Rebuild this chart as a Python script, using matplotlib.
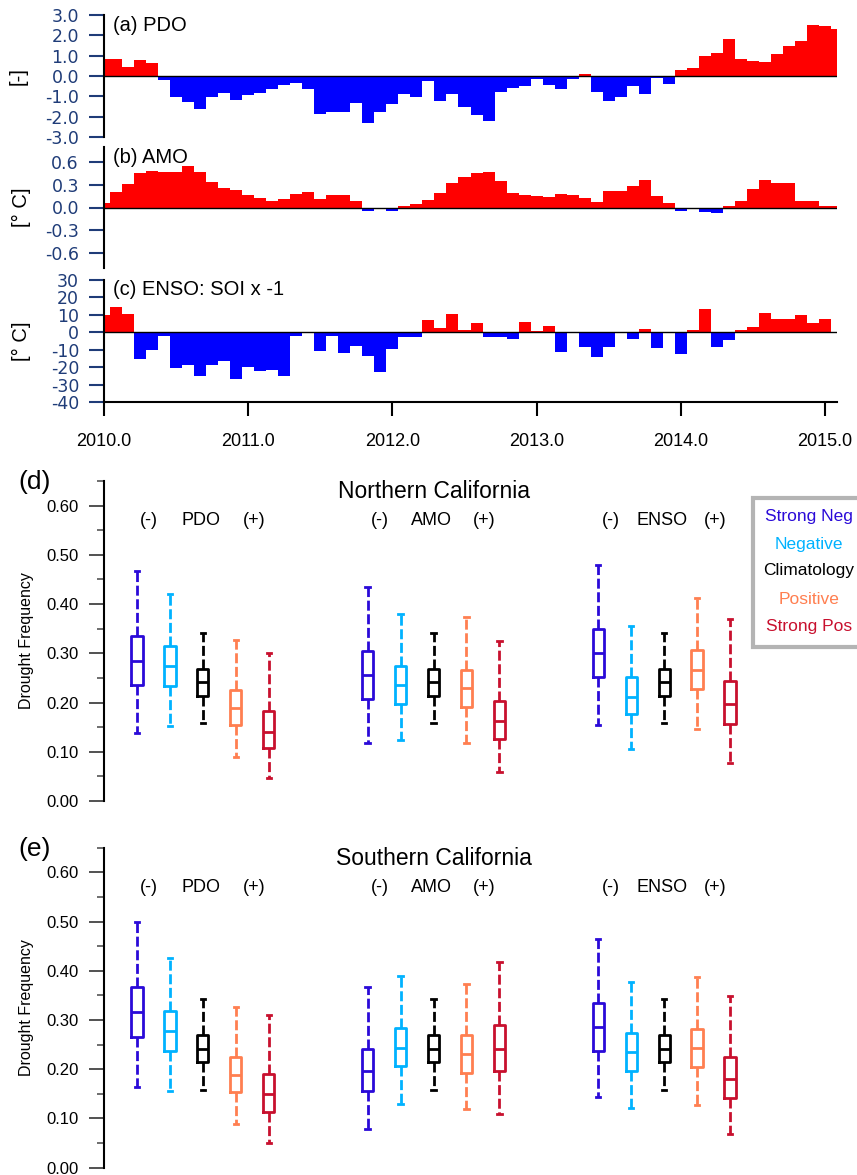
import numpy as np
import matplotlib
matplotlib.use("Agg")
import matplotlib.pyplot as plt
from matplotlib.patches import Rectangle

plt.rcParams['font.family'] = ['Liberation Sans', 'DejaVu Sans']

# ---- monthly indices, Jan 2010 .. Feb 2015 ----
months = 2010 + np.arange(62) / 12.0

pdo = [0.82, 0.82, 0.44, 0.79, 0.64, -0.2, -1.05, -1.26, -1.6, -1.05,
       -0.84, -1.2, -0.93, -0.85, -0.66, -0.43, -0.36, -0.66, -1.85, -1.77,
       -1.79, -1.34, -2.33, -1.79, -1.38, -0.87, -1.03, -0.25, -1.25, -0.87,
       -1.5, -1.92, -2.2, -0.77, -0.59, -0.48, -0.15, -0.43, -0.62, -0.16,
       0.1, -0.77, -1.25, -1.03, -0.49, -0.87, -0.11, -0.39, 0.31, 0.39,
       0.97, 1.13, 1.8, 0.84, 0.72, 0.69, 1.08, 1.49, 1.72, 2.52,
       2.46, 2.3]

amo = [0.066, 0.206, 0.307, 0.45, 0.48, 0.47, 0.47, 0.55, 0.47, 0.34,
       0.26, 0.23, 0.17, 0.13, 0.083, 0.114, 0.175, 0.2, 0.11, 0.17,
       0.167, 0.083, -0.048, -0.013, -0.04, 0.026, 0.048, 0.1, 0.19, 0.32,
       0.4, 0.45, 0.47, 0.355, 0.19, 0.16, 0.15, 0.136, 0.184, 0.16,
       0.12, 0.07, 0.215, 0.215, 0.28, 0.37, 0.15, 0.057, -0.044, -0.02,
       -0.057, -0.07, 0.018, 0.083, 0.24, 0.36, 0.33, 0.32, 0.09, 0.083,
       0.018, 0.018]

enso = [10.1, 14.5, 10.5, -15.4, -10.3, -2.1, -20.6, -19.0, -25.0, -18.5,
        -16.6, -27.0, -20.2, -22.3, -21.5, -25.0, -2.1, -0.4, -10.7, -2.3,
        -11.6, -7.6, -13.7, -23.0, -9.7, -2.7, -2.9, 7.0, 2.7, 10.5,
        1.5, 5.1, -2.9, -2.7, -4.0, 6.1, 0.8, 3.6, -11.2, -0.2,
        -8.4, -14.1, -8.2, 0.2, -4.0, 1.9, -9.1, -0.2, -12.2, 1.3,
        13.1, -8.6, -4.6, 1.3, 2.9, 11.2, 7.4, 7.8, 10.1, 5.3,
        7.8, -0.3]

# ---- drought frequency box statistics ----
indices = ['PDO', 'AMO', 'ENSO']
phases = ['Strong Neg', 'Negative', 'Climatology', 'Positive', 'Strong Pos']
phase_colors = ['#2a0ad8', '#00b2ff', '#000000', '#ff7f50', '#c8102e']

# order: PDO (SN, N, C, P, SP), AMO (...), ENSO (...)
north_lo = [0.139, 0.152, 0.158, 0.089, 0.046,
            0.118, 0.123, 0.158, 0.117, 0.058,
            0.154, 0.106, 0.158, 0.147, 0.078]
north_q1 = [0.235, 0.233, 0.214, 0.155, 0.107,
            0.208, 0.197, 0.214, 0.190, 0.125,
            0.252, 0.176, 0.214, 0.227, 0.156]
north_med = [0.284, 0.274, 0.241, 0.189, 0.141,
             0.255, 0.235, 0.241, 0.229, 0.162,
             0.300, 0.212, 0.241, 0.266, 0.197]
north_q3 = [0.335, 0.314, 0.269, 0.226, 0.183,
            0.304, 0.274, 0.269, 0.267, 0.204,
            0.349, 0.251, 0.269, 0.306, 0.243]
north_hi = [0.467, 0.420, 0.341, 0.327, 0.300,
            0.435, 0.379, 0.341, 0.373, 0.325,
            0.479, 0.355, 0.341, 0.413, 0.370]

south_lo = [0.163, 0.156, 0.158, 0.088, 0.051,
            0.078, 0.130, 0.158, 0.120, 0.110,
            0.143, 0.122, 0.158, 0.128, 0.068]
south_q1 = [0.266, 0.238, 0.215, 0.154, 0.114,
            0.155, 0.207, 0.215, 0.193, 0.197,
            0.238, 0.197, 0.215, 0.204, 0.141]
south_med = [0.316, 0.277, 0.242, 0.188, 0.149,
             0.196, 0.244, 0.242, 0.230, 0.241,
             0.285, 0.235, 0.242, 0.243, 0.180]
south_q3 = [0.368, 0.318, 0.270, 0.224, 0.190,
            0.241, 0.283, 0.270, 0.270, 0.289,
            0.334, 0.274, 0.270, 0.282, 0.224]
south_hi = [0.500, 0.425, 0.342, 0.326, 0.311,
            0.368, 0.389, 0.342, 0.374, 0.418,
            0.464, 0.378, 0.342, 0.387, 0.349]

navy = '#1f3c78'
W, H = 857, 1175
fig = plt.figure(figsize=(W / 100, H / 100), dpi=100)


def fx(px):
    return px / W


def fy(px):
    return 1 - px / H


def index_panel(rect, values, ylim, yticks, ylabels, ylabel, label, label_y):
    ax = fig.add_axes(rect)
    vals = np.array(values)
    cols = np.where(vals >= 0, '#ff0000', '#0000ff')
    ax.bar(months, vals, width=1 / 12, color=cols, linewidth=0)
    ax.axhline(0, color='black', lw=1.0)
    ax.set_xlim(2010.0, 2015.0 + 1 / 12)
    ax.set_ylim(*ylim)
    ax.set_yticks(yticks)
    ax.set_yticklabels(ylabels, family='DejaVu Sans', fontsize=12.5, color=navy)
    ax.tick_params(axis='y', direction='out', length=11, width=1.5,
                   color=navy, pad=7)
    for s in ['top', 'right', 'bottom']:
        ax.spines[s].set_visible(False)
    ax.spines['left'].set_linewidth(1.5)
    ax.set_xticks([])
    ax.set_ylabel(ylabel, fontsize=14.5)
    ax.text(0.012, label_y, label, transform=ax.transAxes, fontsize=14.5,
            va='center', ha='left')
    return ax


left = fx(104)
width = fx(733)
ax_a = index_panel([left, fy(137), width, 122 / H], pdo, (-3, 3),
                   [3, 2, 1, 0, -1, -2, -3],
                   ['3.0', '2.0', '1.0', '0.0', '-1.0', '-2.0', '-3.0'],
                   '[-]', '(a) PDO', 0.918)
ax_a.yaxis.set_label_coords(-76 / 733, 0.5)

ax_b = index_panel([left, fy(268), width, 121 / H], amo, (-0.8, 0.8),
                   [0.6, 0.3, 0.0, -0.3, -0.6],
                   ['0.6', '0.3', '0.0', '-0.3', '-0.6'],
                   '[° C]', '(b) AMO', 0.917)
ax_b.yaxis.set_label_coords(-73 / 733, 0.5)

ax_c = index_panel([left, fy(402), width, 122 / H], enso, (-40, 30),
                   [30, 20, 10, 0, -10, -20, -30, -40],
                   ['30', '20', '10', '0', '-10', '-20', '-30', '-40'],
                   '[° C]', '(c) ENSO: SOI x -1', 0.926)
ax_c.yaxis.set_label_coords(-73 / 733, 0.5)
ax_c.spines['bottom'].set_visible(True)
ax_c.spines['bottom'].set_linewidth(1.5)
years = [2010, 2011, 2012, 2013, 2014, 2015]
ax_c.set_xticks(years)
ax_c.set_xticklabels([f'{y}.0' for y in years], fontsize=13)
ax_c.tick_params(axis='x', direction='out', length=10, width=1.5, pad=12)


def box_panel(rect, lo, q1, med, q3, hi, title):
    ax = fig.add_axes(rect)
    stats = []
    positions = []
    colors = []
    for g in range(len(indices)):
        for i in range(len(phases)):
            k = g * len(phases) + i
            stats.append(dict(whislo=lo[k], q1=q1[k], med=med[k],
                              q3=q3[k], whishi=hi[k]))
            positions.append(g * 7 + i)
            colors.append(phase_colors[i])
    art = ax.bxp(stats, positions=positions, widths=0.34, showfliers=False,
                 capwidths=0.13, manage_ticks=False)
    for k, c in enumerate(colors):
        art['boxes'][k].set(color=c, linewidth=2)
        art['medians'][k].set(color=c, linewidth=2)
        for j in (2 * k, 2 * k + 1):
            art['whiskers'][j].set(color=c, linewidth=2,
                                   linestyle=(0, (3.6, 1.3)))
            art['caps'][j].set(color=c, linewidth=2)
    ax.set_xlim(-1, 19)
    ax.set_ylim(0, 0.65)
    ax.set_yticks(np.arange(0, 0.61, 0.1))
    ax.set_yticklabels([f'{v:.2f}' for v in np.arange(0, 0.61, 0.1)],
                       fontsize=12)
    ax.set_yticks(np.arange(0.05, 0.66, 0.1), minor=True)
    ax.tick_params(axis='y', which='major', direction='out', length=11,
                   width=1.2, color='#333333', pad=7)
    ax.tick_params(axis='y', which='minor', direction='out', length=5,
                   width=1.2, color='#555555')
    ax.set_xticks([])
    for s in ['top', 'right', 'bottom']:
        ax.spines[s].set_visible(False)
    ax.spines['left'].set_linewidth(1.5)
    ax.set_ylabel('Drought Frequency', fontsize=11.5)
    ax.yaxis.set_label_coords(-70 / 659, 0.5)
    ax.text(9, 0.629, title, fontsize=16.5, ha='center', va='center')
    for g, name in enumerate(indices):
        x0 = g * 7
        ax.text(x0 + 0.37, 0.57, '(-)', fontsize=13, ha='center', va='center')
        ax.text(x0 + 1.95, 0.57, name, fontsize=13, ha='center', va='center')
        ax.text(x0 + 3.55, 0.57, '(+)', fontsize=13, ha='center', va='center')
    return ax


box_panel([left, fy(801), fx(659), 320 / H], north_lo, north_q1, north_med,
          north_q3, north_hi, 'Northern California')
box_panel([left, fy(1167.7), fx(659), 320 / H], south_lo, south_q1, south_med,
          south_q3, south_hi, 'Southern California')

fig.text(fx(35), fy(482), '(d)', fontsize=19, ha='center', va='center')
fig.text(fx(35), fy(849), '(e)', fontsize=19, ha='center', va='center')

# legend box (runs off the right edge)
fig.add_artist(Rectangle((fx(753), fy(647)), fx(140), 149 / H,
                         transform=fig.transFigure, facecolor='white',
                         edgecolor='#b4b4b4', linewidth=3))
legend_y = [517, 544, 571, 600, 626]
for name, c, yy in zip(phases, phase_colors, legend_y):
    fig.text(fx(809), fy(yy), name, color=c, fontsize=12.5,
             ha='center', va='center')

fig.savefig('out.png', dpi=100)
